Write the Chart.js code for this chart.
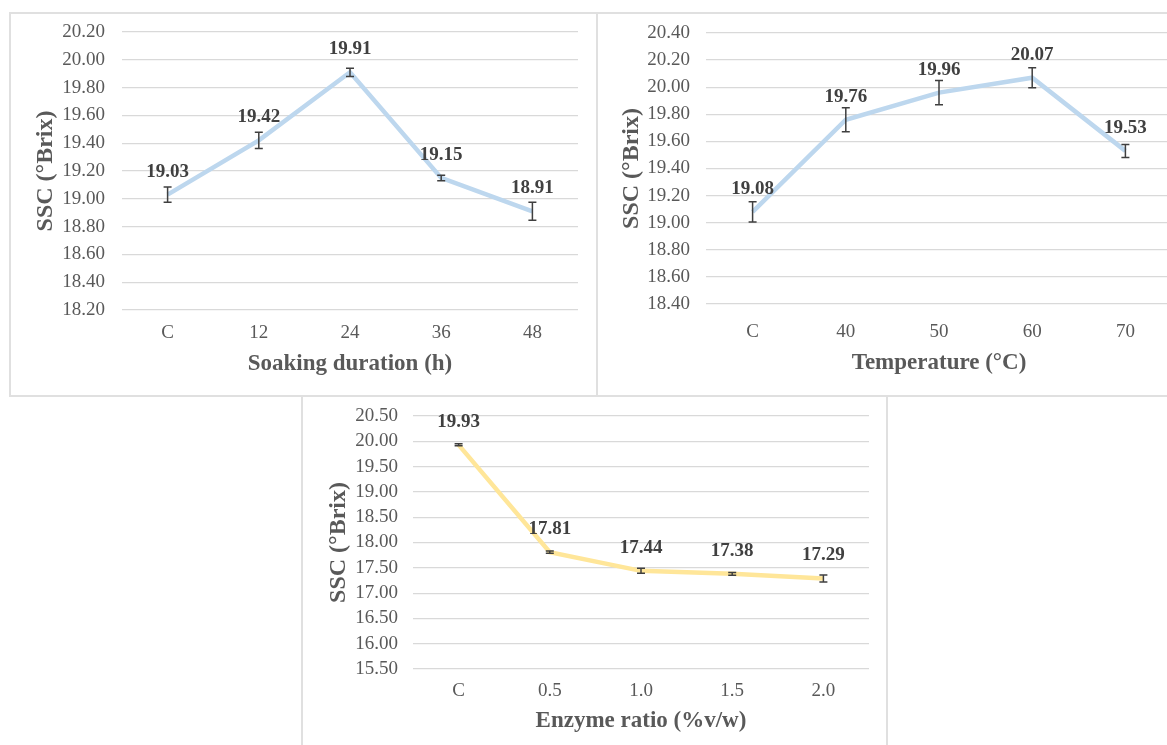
<!DOCTYPE html>
<html>
<head>
<meta charset="utf-8">
<script src="https://cdn.jsdelivr.net/npm/chart.js@4.4.1/dist/chart.umd.min.js"></script>
<style>
  html, body { margin: 0; padding: 0; background: #fff; overflow: hidden; }
  body { width: 1167px; height: 745px; position: relative; }
  .panel { position: absolute; box-sizing: border-box; border: 2px solid #e0e0e0; background: #fff; }
  .panel canvas { position: absolute; left: 0; top: 0; }
</style>
</head>
<body>
<div class="panel" id="p1" style="left:9px; top:12px; width:589px; height:385px;"><canvas id="chart1"></canvas></div>
<div class="panel" id="p2" style="left:596px; top:12px; width:600px; height:385px;"><canvas id="chart2"></canvas></div>
<div class="panel" id="p3" style="left:301px; top:395px; width:587px; height:370px;"><canvas id="chart3"></canvas></div>
<script>
// datos
const soakLabels = ['C', '12', '24', '36', '48'];
const soakValues = [19.03, 19.42, 19.91, 19.15, 18.91];
const soakErrors = [0.055, 0.058, 0.03, 0.02, 0.065];

const tempLabels = ['C', '40', '50', '60', '70'];
const tempValues = [19.08, 19.76, 19.96, 20.07, 19.53];
const tempErrors = [0.074, 0.089, 0.089, 0.074, 0.048];

const enzLabels = ['C', '0.5', '1.0', '1.5', '2.0'];
const enzValues = [19.93, 17.81, 17.44, 17.38, 17.29];
const enzErrors = [0.02, 0.02, 0.05, 0.025, 0.07];

// ejes Y: minimo, maximo, paso
const soakAxis = [18.2, 20.2, 0.2];
const tempAxis = [18.4, 20.4, 0.2];
const enzAxis = [15.5, 20.5, 0.5];

const FUENTE = '"Liberation Serif", "Times New Roman", serif';
const GRIS_TEXTO = '#595959';
const GRIS_ETIQUETA = '#404040';

// Plugin para barras de error y etiquetas de datos
const errorYEtiquetas = {
    id: 'errorYEtiquetas',
    afterDatasetsDraw(chart) {
        const ctx = chart.ctx;
        const yScale = chart.scales.y;
        chart.data.datasets.forEach((dataset, i) => {
            const meta = chart.getDatasetMeta(i);
            meta.data.forEach((punto, j) => {
                const valor = dataset.data[j];
                const err = dataset.errores[j];
                const yArriba = yScale.getPixelForValue(valor + err);
                const yAbajo = yScale.getPixelForValue(valor - err);
                const x = punto.x;
                ctx.save();
                ctx.strokeStyle = '#3f3f3f';
                ctx.lineWidth = 1.5;
                ctx.beginPath();
                ctx.moveTo(x, yArriba);
                ctx.lineTo(x, yAbajo);
                ctx.moveTo(x - 4, yArriba);
                ctx.lineTo(x + 4, yArriba);
                ctx.moveTo(x - 4, yAbajo);
                ctx.lineTo(x + 4, yAbajo);
                ctx.stroke();

                ctx.fillStyle = GRIS_ETIQUETA;
                ctx.font = 'bold 19px ' + FUENTE;
                ctx.textAlign = 'center';
                ctx.textBaseline = 'middle';
                ctx.fillText(valor.toFixed(2), x, punto.y - 23);
                ctx.restore();
            });
        });
    }
};

function crearGrafico(id, ancho, alto, etiquetas, valores, errores, eje, color, tituloX, cfg) {
    const canvas = document.getElementById(id);
    canvas.width = ancho;
    canvas.height = alto;
    return new Chart(canvas.getContext('2d'), {
        type: 'line',
        data: {
            labels: etiquetas,
            datasets: [{
                data: valores,
                errores: errores,
                borderColor: color,
                borderWidth: 4.5,
                pointRadius: 0,
                tension: 0,
                fill: false
            }]
        },
        options: {
            responsive: false,
            animation: false,
            devicePixelRatio: 1,
            layout: {
                padding: { top: cfg.top, right: cfg.right, left: 0, bottom: 0 }
            },
            plugins: {
                legend: { display: false },
                tooltip: { enabled: false }
            },
            scales: {
                x: {
                    offset: true,
                    grid: { display: false, drawTicks: false },
                    border: { display: false },
                    ticks: {
                        color: GRIS_TEXTO,
                        font: { family: FUENTE, size: 19 },
                        padding: cfg.tickPadX,
                        maxRotation: 0
                    },
                    title: {
                        display: true,
                        text: tituloX,
                        color: GRIS_TEXTO,
                        font: { family: FUENTE, size: 23, weight: 'bold' },
                        padding: { top: 0, bottom: cfg.titlePadX }
                    },
                    afterFit: (scale) => {
                        scale.height = alto - cfg.bottom;
                        scale.paddingLeft = 0;
                        scale.paddingRight = 0;
                    }
                },
                y: {
                    min: eje[0],
                    max: eje[1],
                    grid: { color: '#d9d9d9', lineWidth: 1.2, drawTicks: false },
                    border: { display: false },
                    ticks: {
                        stepSize: eje[2],
                        autoSkip: false,
                        color: GRIS_TEXTO,
                        font: { family: FUENTE, size: 19 },
                        padding: cfg.tickPadY,
                        callback: function(value) { return Number(value).toFixed(2); }
                    },
                    title: {
                        display: true,
                        text: 'SSC (°Brix)',
                        color: GRIS_TEXTO,
                        font: { family: FUENTE, size: 24, weight: 'bold' },
                        padding: { top: cfg.titlePadY, bottom: 0 }
                    },
                    afterFit: (scale) => {
                        scale.width = cfg.left;
                        scale.paddingTop = 0;
                        scale.paddingBottom = 0;
                    }
                }
            }
        },
        plugins: [errorYEtiquetas]
    });
}

crearGrafico('chart1', 585, 381, soakLabels, soakValues, soakErrors, soakAxis, 'rgb(189, 215, 238)',
    'Soaking duration (h)',
    { left: 111, top: 18, right: 18, bottom: 296, tickPadX: 12, titlePadX: 17, tickPadY: 17, titlePadY: 20 });

crearGrafico('chart2', 596, 381, tempLabels, tempValues, tempErrors, tempAxis, 'rgb(189, 215, 238)',
    'Temperature (°C)',
    { left: 108, top: 19, right: 22, bottom: 290, tickPadX: 17, titlePadX: 18, tickPadY: 16, titlePadY: 19 });

crearGrafico('chart3', 583, 366, enzLabels, enzValues, enzErrors, enzAxis, 'rgb(255, 230, 153)',
    'Enzyme ratio (%v/w)',
    { left: 110, top: 19, right: 17, bottom: 272, tickPadX: 11, titlePadX: 28, tickPadY: 15, titlePadY: 21 });
</script>
</body>
</html>
